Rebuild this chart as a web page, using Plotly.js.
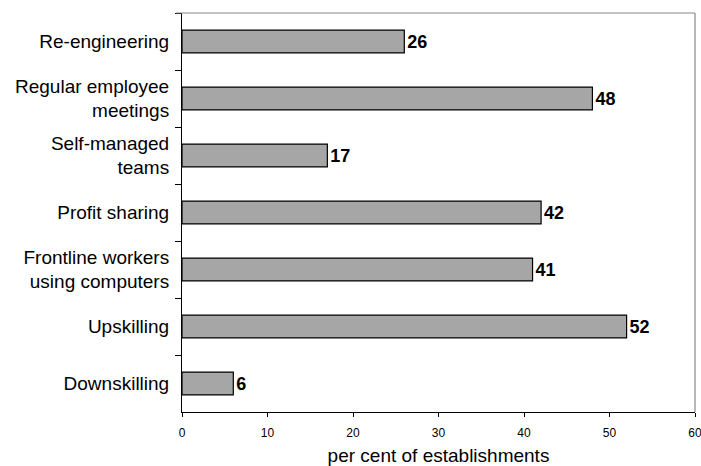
<!DOCTYPE html>
<html>
<head>
<meta charset="utf-8">
<script src="https://cdn.plot.ly/plotly-3.0.1.min.js"></script>
<style>html,body{margin:0;padding:0;background:#fff;}#chart{width:701px;height:466px;}</style>
</head>
<body>
<div id="chart"></div>
<script>
const categories = [
  "Re-engineering",
  "Regular employee<br>meetings",
  "Self-managed<br>teams",
  "Profit sharing",
  "Frontline workers<br>using computers",
  "Upskilling",
  "Downskilling"
];
const values = [26, 48, 17, 42, 41, 52, 6];
const xTickValues = [0, 10, 20, 30, 40, 50, 60];
const xTitle = "per cent of establishments";

const trace = {
  type: "bar",
  orientation: "h",
  y: categories,
  x: values,
  text: values.map(String),
  textposition: "outside",
  constraintext: "none",
  cliponaxis: false,
  textfont: {family: "Liberation Sans, Arial, sans-serif", size: 18, color: "#000", weight: "bold"},
  marker: {color: "#a6a6a6", line: {color: "#000", width: 1.2}},
  hoverinfo: "none"
};

const layout = {
  width: 701, height: 466,
  margin: {l: 181.5, r: 6, t: 13, b: 54},
  paper_bgcolor: "#fff", plot_bgcolor: "#fff",
  showlegend: false,
  bargap: 0.6,
  font: {family: "Liberation Sans, Arial, sans-serif", color: "#000"},
  xaxis: {
    range: [0, 60],
    tickvals: xTickValues,
    ticktext: xTickValues.map(String),
    showgrid: false, zeroline: false,
    showline: true, linecolor: "#000", linewidth: 1,
    ticks: "outside", ticklen: 4, tickcolor: "#000",
    ticklabeloverflow: "allow",
    ticklabelstandoff: 6,
    tickfont: {size: 12, color: "#000"},
    title: {text: xTitle, font: {size: 19, color: "#000"}, standoff: 12}
  },
  yaxis: {
    type: "category",
    autorange: "reversed",
    showgrid: false, zeroline: false,
    showline: true, linecolor: "#000", linewidth: 1,
    ticks: "outside", ticklen: 6, tickcolor: "#000",
    tickson: "boundaries",
    ticklabelstandoff: 8,
    tickfont: {size: 19, color: "#000"}
  },
  shapes: [
    {type: "line", xref: "paper", yref: "paper", x0: -0.012, x1: 1, y0: 1, y1: 1, line: {color: "#888", width: 1.2}},
    {type: "line", xref: "paper", yref: "paper", x0: 1, x1: 1, y0: 0, y1: 1, line: {color: "#888", width: 1.2}}
  ]
};

Plotly.newPlot("chart", [trace], layout, {staticPlot: true, displayModeBar: false});
</script>
</body>
</html>
